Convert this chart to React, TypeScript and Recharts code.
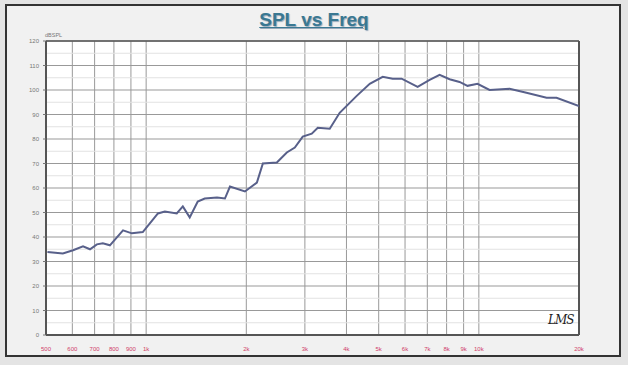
import React from "react";
import {
  LineChart,
  Line,
  XAxis,
  YAxis,
  CartesianGrid,
  ReferenceLine,
} from "recharts";

// measured SPL response (Hz -> dBSPL)
const freqs = [
  505, 562, 603, 646, 678, 711, 741, 778, 852, 906, 977, 1085, 1138, 1236,
  1289, 1352, 1429, 1500, 1633, 1725, 1786, 1981, 2152, 2243, 2471, 2647, 2798,
  2956, 3146, 3280, 3563, 3817, 4295, 4699, 5141, 5508, 5860, 6546, 7113, 7622,
  8167, 8751, 9246, 9908, 10770, 12370, 13900, 15980, 17120, 20000,
];
const spl = [
  33.9, 33.3, 34.6, 36.2, 35, 37, 37.4, 36.6, 42.7, 41.5, 42, 49.6, 50.4, 49.6,
  52.5, 48, 54.5, 55.7, 56.1, 55.7, 60.6, 58.6, 62.2, 70, 70.4, 74.5, 76.5, 81,
  82.2, 84.6, 84.2, 90.7, 97.6, 102.5, 105.4, 104.6, 104.6, 101.3, 104.1, 106.2,
  104.4, 103.3, 101.7, 102.5, 100, 100.5, 98.9, 96.8, 96.8, 93.4,
];

const freqTicks = [
  500, 600, 700, 800, 900, 1000, 2000, 3000, 4000, 5000, 6000, 7000, 8000, 9000,
  10000, 20000,
];
const freqLabels = [
  "500", "600", "700", "800", "900", "1k", "2k", "3k", "4k", "5k", "6k", "7k",
  "8k", "9k", "10k", "20k",
];
const splTicks = [0, 10, 20, 30, 40, 50, 60, 70, 80, 90, 100, 110, 120];
const minorSpl = [5, 15, 25, 35, 45, 55, 65, 75, 85, 95, 105, 115];

const data = freqs.map((f, i) => ({ f, spl: spl[i] }));

const XTick = (props: any) => {
  const { x, y, payload } = props;
  const i = freqTicks.indexOf(payload.value);
  return (
    <text
      x={x}
      y={y + 8}
      textAnchor="middle"
      fontSize={6}
      fill="#d0406a"
      fontFamily="Liberation Sans, Arial, sans-serif"
    >
      {freqLabels[i]}
    </text>
  );
};

const YTick = (props: any) => {
  const { x, y, payload } = props;
  return (
    <text
      x={x - 2}
      y={y + 2}
      textAnchor="end"
      fontSize={6}
      fill="#777"
      fontFamily="Liberation Sans, Arial, sans-serif"
    >
      {payload.value}
    </text>
  );
};

export default function App() {
  return (
    <div
      style={{
        position: "absolute",
        left: 0,
        top: 0,
        width: 628,
        height: 365,
        background: "#e4e4e4",
        fontFamily: "Liberation Sans, Arial, sans-serif",
      }}
    >
      <div
        style={{
          position: "absolute",
          left: 5,
          top: 4,
          width: 612,
          height: 349,
          border: "2px solid #333",
          background: "#f1f1f1",
        }}
      />
      <div
        style={{
          position: "absolute",
          left: 0,
          width: 628,
          top: 9,
          textAlign: "center",
          fontSize: 19,
          fontWeight: "bold",
          color: "#3a7892",
          textDecoration: "underline",
          textShadow: "1px 1px 1px #9ab",
        }}
      >
        SPL vs Freq
      </div>
      <div
        style={{
          position: "absolute",
          left: 45,
          top: 32,
          fontSize: 5.5,
          color: "#777",
        }}
      >
        dBSPL
      </div>
      <div style={{ position: "absolute", left: 0, top: 0 }}>
        <LineChart
          width={628}
          height={365}
          data={data}
          margin={{ top: 41, right: 49, bottom: 10, left: 16 }}
        >
          <CartesianGrid
            fill="#fff"
            stroke="#999"
            strokeWidth={1}
            horizontalValues={splTicks}
            verticalValues={freqTicks}
          />
          {minorSpl.map((v) => (
            <ReferenceLine key={v} y={v} stroke="#e2e2e2" strokeWidth={1} />
          ))}
          <XAxis
            dataKey="f"
            type="number"
            scale="log"
            domain={[500, 20000]}
            ticks={freqTicks}
            interval={0}
            tick={<XTick />}
            tickLine={false}
            axisLine={{ stroke: "#555", strokeWidth: 2 }}
            height={20}
            allowDataOverflow
          />
          <YAxis
            type="number"
            domain={[0, 120]}
            ticks={splTicks}
            interval={0}
            tick={<YTick />}
            tickLine={{ stroke: "#777" }}
            tickSize={3}
            axisLine={{ stroke: "#555", strokeWidth: 2 }}
            width={30}
          />
          <ReferenceLine y={120} stroke="#555" strokeWidth={1.5} />
          <ReferenceLine x={20000} stroke="#555" strokeWidth={2} />
          <Line
            dataKey="spl"
            stroke="#58608a"
            strokeWidth={2}
            dot={false}
            isAnimationActive={false}
          />
        </LineChart>
      </div>
      <div
        style={{
          position: "absolute",
          left: 548,
          top: 313,
          fontSize: 12,
          fontStyle: "italic",
          fontFamily: "DejaVu Serif, serif",
          color: "#222",
          letterSpacing: -1,
        }}
      >
        LMS
      </div>
    </div>
  );
}
